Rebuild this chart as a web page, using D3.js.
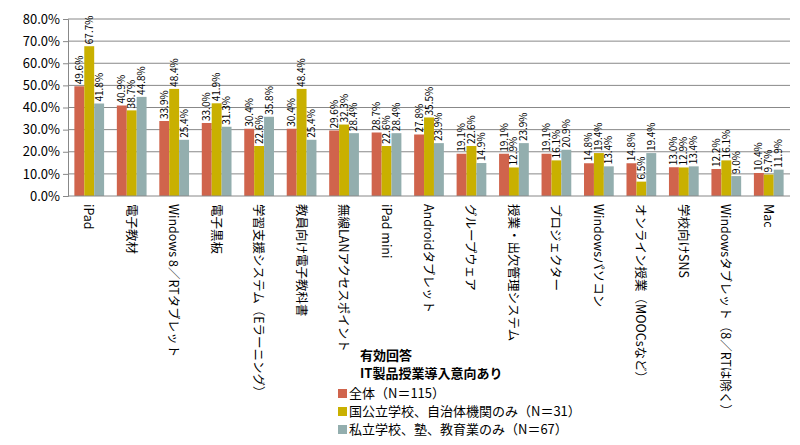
<!DOCTYPE html>
<html><head><meta charset="utf-8">
<script src="https://cdn.jsdelivr.net/npm/d3@7"></script>
<style>body{margin:0;background:#fff}text{font-family:"Noto Sans CJK JP",sans-serif}</style>
</head><body><svg id="c" width="800" height="445"></svg>
<script>
const categories = ["iPad","電子教材","Windows 8／RTタブレット","電子黒板","学習支援システム（Eラーニング）","教員向け電子教科書","無線LANアクセスポイント","iPad mini","Androidタブレット","グループウェア","授業・出欠管理システム","プロジェクター","Windowsパソコン","オンライン授業（MOOCsなど）","学校向けSNS","Windowsタブレット（8／RTは除く）","Mac"];
const allValues = [49.6,40.9,33.9,33.0,30.4,30.4,29.6,28.7,27.8,19.1,19.1,19.1,14.8,14.8,13.0,12.2,10.4];
const publicValues = [67.7,38.7,48.4,41.9,22.6,48.4,32.3,22.6,35.5,22.6,12.9,16.1,19.4,6.5,12.9,16.1,9.7];
const privateValues = [41.8,44.8,25.4,31.3,35.8,25.4,28.4,28.4,23.9,14.9,23.9,20.9,13.4,19.4,13.4,9.0,11.9];
const seriesNames = ["全体（N＝115）","国公立学校、自治体機関のみ（N＝31）","私立学校、塾、教育業のみ（N＝67）"];
const colors = ["#d0644c","#c9b000","#93aeae"];
const yTicks = [0,10,20,30,40,50,60,70,80];

const svg = d3.select("#c");
const x0 = d3.scaleBand().domain(categories).range([68,790]).paddingInner(0.3).paddingOuter(0.15);
const x1 = d3.scaleBand().domain([0,1,2]).range([0,x0.bandwidth()]);
const y = d3.scaleLinear().domain([0,80]).range([196,19]);

const gy = svg.append("g").attr("transform","translate(68,0)")
  .call(d3.axisLeft(y).tickValues(yTicks).tickFormat(d=>d.toFixed(1)+"%").tickSize(5));
gy.select(".domain").attr("stroke","#888");
gy.selectAll(".tick line").attr("stroke","#888");
gy.selectAll(".tick text").attr("font-size",13).attr("fill","#000").attr("font-family","Verdana,DejaVu Sans,sans-serif");
svg.append("g").selectAll("line").data(yTicks.slice(1)).join("line")
  .attr("x1",68).attr("x2",790).attr("y1",d=>y(d)).attr("y2",d=>y(d)).attr("stroke","#888");

const series = [allValues,publicValues,privateValues];
series.forEach((vals,si)=>{
  const g = svg.append("g");
  g.selectAll("rect").data(vals).join("rect")
    .attr("x",(d,i)=>x0(categories[i])+x1(si)).attr("width",x1.bandwidth())
    .attr("y",d=>y(d)).attr("height",d=>y(0)-y(d)).attr("fill",colors[si]);
  g.selectAll("text").data(vals).join("text")
    .attr("transform",(d,i)=>`translate(${x0(categories[i])+x1(si)+x1.bandwidth()/2+3.5},${y(d)-2}) rotate(-90)`)
    .attr("font-size",10).attr("font-family","Verdana,DejaVu Sans,sans-serif").text(d=>d.toFixed(1)+"%");
});
svg.append("line").attr("x1",68).attr("x2",790).attr("y1",y(0)).attr("y2",y(0)).attr("stroke","#888");

svg.append("g").selectAll("text").data(categories).join("text")
  .attr("transform",d=>`translate(${x0(d)+x0.bandwidth()/2-5},204) rotate(90)`)
  .attr("font-size",12.5).attr("font-family","Verdana,'Noto Sans CJK JP',sans-serif").text(d=>d);

const lg = svg.append("g").attr("transform","translate(360,0)");
lg.append("text").attr("x",0).attr("y",360).attr("font-size",13).attr("font-weight","bold").text("有効回答");
lg.append("text").attr("x",0).attr("y",378).attr("font-size",13).attr("font-weight","bold").text("IT製品授業導入意向あり");
seriesNames.forEach((n,i)=>{
  lg.append("rect").attr("x",-22).attr("y",389+i*18).attr("width",9).attr("height",9).attr("fill",colors[i]);
  lg.append("text").attr("x",-11).attr("y",398+i*18).attr("font-size",13).text(n);
});
</script></body></html>
